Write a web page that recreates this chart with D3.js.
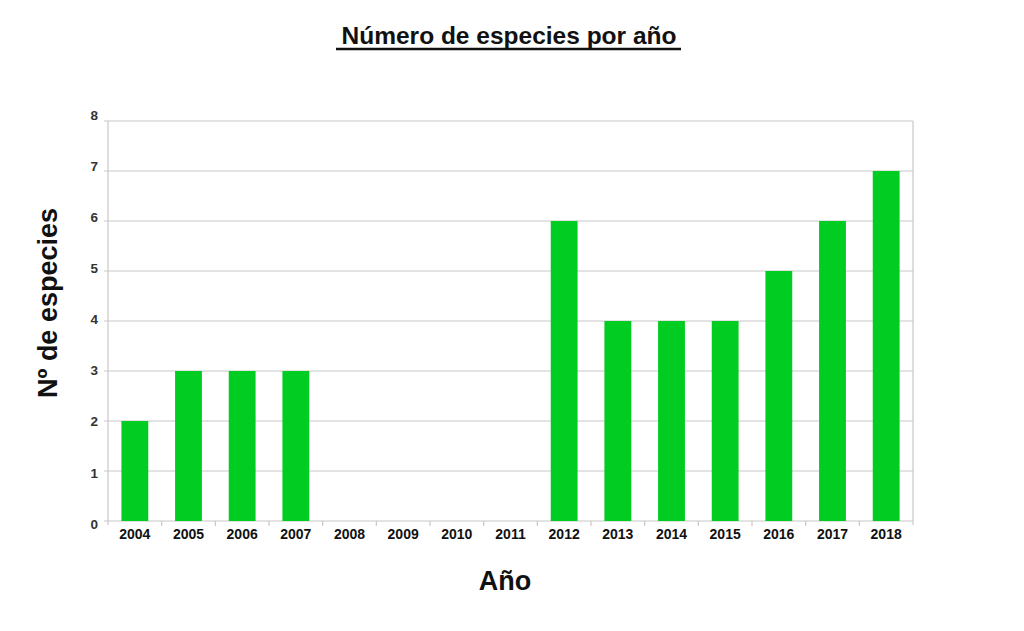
<!DOCTYPE html>
<html><head><meta charset="utf-8">
<script src="https://cdn.jsdelivr.net/npm/d3@7"></script>
<style>body{margin:0;background:#fff;}</style>
</head><body>
<script>
const years = ["2004","2005","2006","2007","2008","2009","2010","2011","2012","2013","2014","2015","2016","2017","2018"];
const counts = [2,3,3,3,0,0,0,0,6,4,4,4,5,6,7];
const yTicks = [0,1,2,3,4,5,6,7,8];

const W=1024,H=631;
const m={l:108,r:913,t:121,b:521};
const svg=d3.select("body").append("svg").attr("width",W).attr("height",H)
  .style("font-family","Liberation Sans, Arial, sans-serif");

const x=d3.scaleBand().domain(years).range([m.l,m.r]).paddingInner(0.5).paddingOuter(0.25);
const xb=d3.scaleBand().domain(years).range([m.l,m.r]);
const y=d3.scaleLinear().domain([0,8]).range([m.b,m.t]);
const yLab=d3.scaleLinear().domain([0,8]).range([524,115]);

svg.append("g").selectAll("line").data(yTicks).join("line")
  .attr("x1",m.l-4).attr("x2",m.r).attr("y1",d=>y(d)).attr("y2",d=>y(d))
  .attr("stroke","#c8c8c8").attr("stroke-width",1.2);
svg.append("line").attr("x1",m.l).attr("x2",m.l).attr("y1",m.t).attr("y2",m.b+4).attr("stroke","#c8c8c8").attr("stroke-width",1.2);
svg.append("line").attr("x1",m.r).attr("x2",m.r).attr("y1",m.t).attr("y2",m.b+4).attr("stroke","#c8c8c8").attr("stroke-width",1.2);
svg.append("g").selectAll("line").data(years.slice(1)).join("line")
  .attr("x1",d=>xb(d)).attr("x2",d=>xb(d)).attr("y1",m.b).attr("y2",m.b+5)
  .attr("stroke","#c8c8c8").attr("stroke-width",1.2);

svg.append("g").selectAll("rect").data(years).join("rect")
  .attr("x",d=>x(d)).attr("width",x.bandwidth())
  .attr("y",(d,i)=>y(counts[i])).attr("height",(d,i)=>y(0)-y(counts[i]))
  .attr("fill","#00cc22");

svg.append("g").selectAll("text").data(yTicks).join("text")
  .attr("x",98).attr("y",d=>yLab(d)).attr("dy","0.35em").attr("text-anchor","end")
  .attr("font-size",13.5).attr("font-weight","bold").attr("fill","#333").text(d=>d);
svg.append("g").selectAll("text").data(years).join("text")
  .attr("x",d=>xb(d)+xb.bandwidth()/2).attr("y",539).attr("text-anchor","middle")
  .attr("font-size",14).attr("font-weight","bold").attr("fill","#111").text(d=>d);

svg.append("text").attr("x",509).attr("y",44).attr("text-anchor","middle")
  .attr("font-size",24.5).attr("font-weight","bold").attr("fill","#111").text("Número de especies por año");
svg.append("line").attr("x1",336).attr("x2",681).attr("y1",49).attr("y2",49).attr("stroke","#111").attr("stroke-width",2.5);
svg.append("text").attr("x",505).attr("y",590).attr("text-anchor","middle")
  .attr("font-size",27).attr("font-weight","bold").attr("fill","#111").text("Año");
svg.append("text").attr("transform","translate(57,303) rotate(-90)").attr("text-anchor","middle")
  .attr("font-size",27).attr("font-weight","bold").attr("fill","#111").text("Nº de especies");
</script>
</body></html>
